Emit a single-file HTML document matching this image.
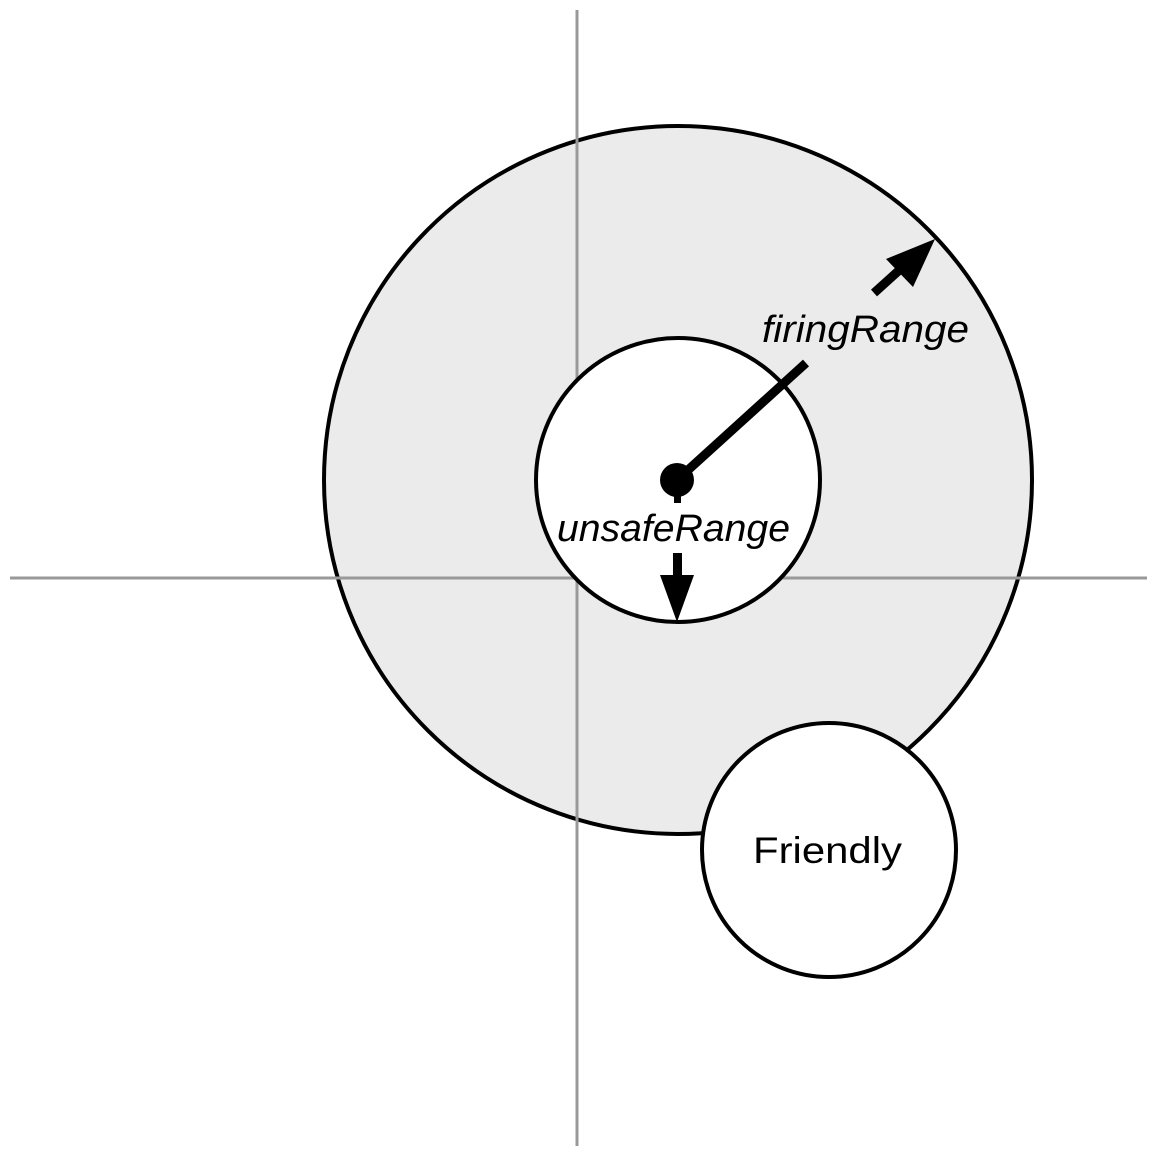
<!DOCTYPE html>
<html><head><style>html,body{margin:0;padding:0;background:#fff}svg{display:block}</style></head>
<body>
<svg width="1155" height="1155" viewBox="0 0 1155 1155" xmlns="http://www.w3.org/2000/svg">
<circle cx="678" cy="480" r="354" fill="#ebebeb" stroke="#000" stroke-width="4"/>
<line x1="577" y1="10" x2="577" y2="1146" stroke="#999" stroke-width="3"/>
<line x1="10" y1="578" x2="1147" y2="578" stroke="#999" stroke-width="3"/>
<circle cx="678" cy="480" r="142" fill="#fff" stroke="#000" stroke-width="4"/>
<circle cx="829" cy="850" r="127" fill="#fff" stroke="#000" stroke-width="4"/>
<line x1="677" y1="480" x2="806" y2="363" stroke="#000" stroke-width="9"/>
<line x1="874" y1="293" x2="905" y2="265" stroke="#000" stroke-width="9"/>
<polygon points="935,239 886,259 913,287" fill="#000"/>
<circle cx="677" cy="480" r="17" fill="#000"/>
<rect x="674" y="490" width="7" height="13" fill="#000"/>
<rect x="673" y="553" width="9" height="24" fill="#000"/>
<polygon points="660,575 694,575 677,622" fill="#000"/>
<text x="762" y="342" font-family="Liberation Sans, sans-serif" font-style="italic" font-size="38" textLength="207" lengthAdjust="spacingAndGlyphs">firingRange</text>
<text x="557" y="541" font-family="Liberation Sans, sans-serif" font-style="italic" font-size="38" textLength="233" lengthAdjust="spacingAndGlyphs">unsafeRange</text>
<text x="753" y="863" font-family="Liberation Sans, sans-serif" font-size="37" textLength="149" lengthAdjust="spacingAndGlyphs">Friendly</text>
</svg>
</body></html>
